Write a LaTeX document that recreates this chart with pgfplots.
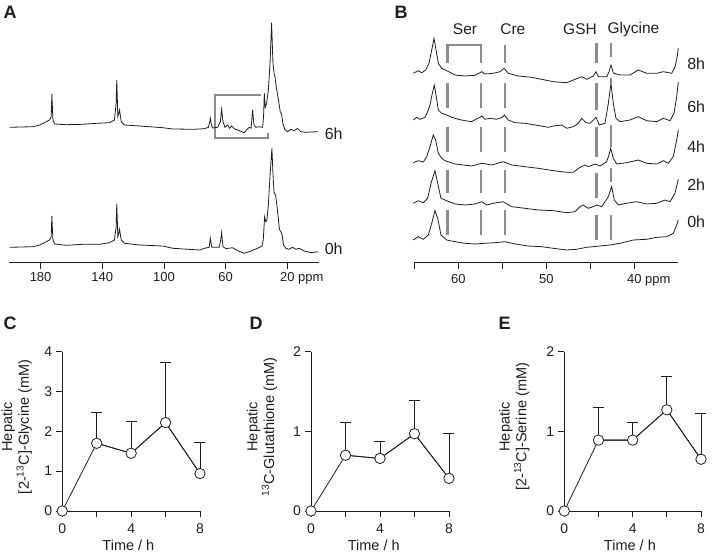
\documentclass[border=0pt]{standalone}
\usepackage{pgfplots}
\pgfplotsset{compat=1.18}
\usepackage{fontspec}
\setmainfont{Liberation Sans}
\definecolor{ink}{HTML}{1E1E1E}
\definecolor{mk}{HTML}{8C8C8C}
\begin{document}
\begin{tikzpicture}[every node/.append style={text=ink}]
\useasboundingbox (0pt,0pt) rectangle (713pt,552pt);
\pgfplotsset{
  /pgf/number format/assume math mode=true,
  spec/.style={scale only axis, clip=false, axis x line*=bottom, axis y line=none,
    x dir=reverse, ymin=0, ymax=256, height=256pt, tick align=outside,
    major tick length=7pt, axis line style={ink,line width=0.8pt},
    tick style={ink,line width=0.8pt}, ytick=\empty,
    ticklabel style={font=\fontsize{13}{15}\selectfont, text=ink}},
  bot/.style={scale only axis, clip=false, axis lines*=left, tick align=outside,
    major tick length=6.5pt, axis line style={ink,line width=0.8pt},
    tick style={ink,line width=0.8pt},
    ticklabel style={font=\fontsize{14}{16}\selectfont, text=ink},
    xticklabel style={yshift=-2.5pt},
    xmin=0, xmax=8, ymin=0, xtick={0,2,4,6,8}, xticklabels={0,,4,,8},
    height=159.3pt,
    label style={font=\fontsize{14.5}{16.7}\selectfont, text=ink},
    ylabel style={align=center, anchor=center},
    xlabel={Time / h}},
  errp/.style={ink, line width=0.8pt, mark=none, forget plot,
    error bars/.cd, y dir=plus, y explicit, error mark=-,
    error bar style={ink, line width=0.8pt},
    error mark options={ink, line width=0.8pt, mark size=5.5pt, rotate=90}},
  meanp/.style={ink, line width=0.8pt, mark=*, mark size=5.2pt,
    mark options={fill=white, draw=ink, line width=0.8pt}},
}
% ---------------- Panel A ----------------
\begin{axis}[spec, at={(9.3pt,290pt)}, anchor=south west, width=310pt,
  xmin=-0.75, xmax=200.3, xtick={180,140,100,60,20},
  xticklabels={180,140,100,60,{20\rlap{ ppm}}}]
\addplot[mk, line width=1.8pt, line join=miter] coordinates {(37.1,166.7) (66.9,166.7) (66.9,123.7) (32.3,123.7) (32.3,129.3)};
\addplot[ink, line width=0.8pt] coordinates {
(200.1,134.7) (185,135.3) (180.6,137) (176.3,140.3) (174.2,142) (173.1,145.3) (172.7,168) (172.0,142) (170.9,138) (163.4,137.3) (152.6,137.7) (143.9,138.7) (135.3,139.3) (132.1,142) (131,158.7) (130.6,182) (129.9,145.3) (129.3,148.7) (128.8,152) (127.7,140.3) (125.6,137) (115.9,136) (100.8,134.3) (94.3,133) (80.3,132.7) (73.8,133.3) (71.2,134.7) (70.3,140.3) (69.9,143.7) (69.4,138.7) (68.6,134) (65.2,134.7) (63.4,140.3) (62.6,152.7) (61.7,140.3) (60.4,134.7) (58.7,137) (57.4,133.7) (56.1,136) (54.4,133.3) (51.1,131.3) (47.9,129.3) (46.1,132.7) (44.6,134.7) (43.5,133.7) (42.5,152) (41.6,137) (40.3,134.7) (38.2,135.3) (36,134.7) (35.4,145.3) (34.9,168.7) (34.3,154.7) (33.4,158.7) (32.3,172) (31.2,198.7) (30.2,239.3) (29.3,198.7) (28.6,188.7) (28,185.3) (27.2,175.3) (25.9,163.7) (24.6,150.3) (23.7,148) (22.9,138.7) (21.6,132.7) (19.9,130.3) (17.7,132.7) (15.5,131.3) (13.4,133.7) (11.2,130.3) (8,129.7) (4.7,130) (0,130.3)};
\addplot[ink, line width=0.8pt] coordinates {
(200.1,14.7) (185,15.3) (180.6,17) (176.3,20.3) (174.2,22) (173.1,25.3) (172.7,46) (172.0,22) (170.9,18) (163.4,16.7) (152.6,17.7) (141.8,17.7) (135.3,19.3) (132.1,22) (131,35.3) (130.6,58) (129.9,25.3) (129.3,28.7) (128.8,32.7) (127.7,22) (125.6,18.7) (115.9,17) (100.8,16) (94.3,13.7) (77,12) (73.8,13.7) (70.7,14.7) (69.9,23.7) (69,14.7) (64.1,14.7) (63.2,22) (62.6,29.3) (61.7,15.3) (59.7,13.3) (55.5,14.3) (52.2,11.3) (47.9,8.7) (43.5,11) (39.3,13.7) (36.4,16) (35.6,22) (34.7,45.3) (33.9,40.3) (33.2,42) (32.3,57) (31.1,88.7) (30,113.7) (29.1,82) (28.5,68.7) (27.6,67) (26.4,52) (25.1,32.7) (24.2,30.3) (23.3,27) (22.5,17) (20.9,13.7) (18.8,12.7) (16.6,14.7) (14.4,12.7) (12.3,13.7) (9,11) (4.7,9.3) (0,10.3)};
\node[anchor=west, font=\fontsize{16}{18}\selectfont, inner sep=0pt] at (axis cs:-4.2,128.7) {6h};
\node[anchor=west, font=\fontsize{16}{18}\selectfont, inner sep=0pt] at (axis cs:-4.2,13.7) {0h};
\end{axis}
% ---------------- Panel B ----------------
\begin{axis}[spec, at={(414.3pt,290pt)}, anchor=south west, width=264pt,
  xmin=35, xmax=65, xtick={65,60,55,50,45,40},
  xticklabels={,60,,50,,{40\rlap{ ppm}}}, unbounded coords=jump,
  xticklabel style={yshift=-1.5pt}]
\addplot[mk, line width=2.6pt, line join=miter] coordinates {(61.25,198.7) (61.25,217) (57.42,217) (57.42,198.7)};
\addplot[mk, line width=2.6pt] coordinates {(61.25,178.7) (61.25,153.7) (61.25,nan) (61.25,135.3) (61.25,110.3) (61.25,nan) (61.25,92) (61.25,68.7) (61.25,nan) (61.25,52) (61.25,27)};
\addplot[mk, line width=2.6pt] coordinates {(57.42,178.7) (57.42,153.7) (57.42,nan) (57.42,135.3) (57.42,110.3) (57.42,nan) (57.42,92) (57.42,68.7) (57.42,nan) (57.42,52) (57.42,27)};
\addplot[mk, line width=2.6pt] coordinates {(54.69,217) (54.69,198.7) (54.69,nan) (54.69,178.7) (54.69,153.7) (54.69,nan) (54.69,135.3) (54.69,110.3) (54.69,nan) (54.69,92) (54.69,68.7) (54.69,nan) (54.69,52) (54.69,27)};
\addplot[mk, line width=2.6pt] coordinates {(44.32,218.7) (44.32,198.7) (44.32,nan) (44.32,178.7) (44.32,152) (44.32,nan) (44.32,135.3) (44.32,105.3) (44.32,nan) (44.32,88.7) (44.32,63.7) (44.32,nan) (44.32,47) (44.32,22)};
\addplot[mk, line width=2.6pt] coordinates {(42.65,218.7) (42.65,204.7) (42.65,nan) (42.65,183.7) (42.65,178.7) (42.65,nan) (42.65,137) (42.65,115) (42.65,nan) (42.65,93.7) (42.65,80.3) (42.65,nan) (42.65,47) (42.65,22)};
% 8h
\addplot[ink, line width=0.8pt] coordinates {
(65.11,188.7) (64.55,191.3) (64.16,189.3) (63.70,192) (63.33,198.7) (63.02,212) (62.76,223.7) (62.53,212) (62.27,198.7) (61.89,193.7) (61.32,191.3) (60.38,187) (59.24,186) (58.10,186.7) (57.65,188.7) (57.34,190.3) (56.97,188) (56.02,188.7) (55.26,190.3) (54.81,193.7) (54.32,188.7) (53.18,186) (51.66,184.7) (50.15,182) (49.20,180.3) (47.68,179.3) (46.93,182) (45.98,185.3) (45.41,182.7) (44.66,186) (44.35,190.3) (44.09,185.3) (43.14,185.3) (42.88,190) (42.65,197) (42.42,190) (42.31,188.7) (41.62,187) (40.49,187) (39.55,192) (38.59,188.7) (37.45,188.7) (36.70,190.3) (35.75,188.7) (35.38,195.3) (35.15,204) (35.0,213.7)};
% 6h
\addplot[ink, line width=0.8pt] coordinates {
(65.11,142) (64.73,144.7) (64.35,142.7) (63.78,144.7) (63.48,150.3) (63.22,157) (62.95,168.7) (62.73,177) (62.53,167) (62.27,152) (61.89,148.7) (61.32,147) (60.75,144.7) (60.0,142.7) (59.24,141.3) (58.48,140.3) (58.02,142.7) (57.53,144.7) (57.34,146) (56.97,142.7) (56.40,143.7) (55.64,142.7) (55.0,144.7) (54.77,147) (54.32,142) (53.56,139.3) (52.42,138.7) (51.28,137) (50.15,135.3) (49.77,134.7) (49.20,136) (48.25,137) (47.68,133.7) (46.93,135.3) (46.36,138.7) (45.98,143.7) (45.49,139.3) (45.03,138.7) (44.35,144.7) (43.98,137) (43.33,138.7) (42.95,158.7) (42.65,178.7) (42.39,158.7) (42.08,143.7) (41.62,140.3) (40.49,142) (39.55,145.3) (38.59,141.3) (37.45,140.3) (36.70,143.7) (35.94,141.3) (35.49,148.7) (35.18,165.3) (35.0,180)};
% 4h
\addplot[ink, line width=0.8pt] coordinates {
(65.11,99.3) (64.55,101.3) (63.98,100) (63.59,105.3) (63.22,115.3) (62.84,127) (62.57,122) (62.27,108.7) (61.89,103.7) (61.51,101.3) (60.38,98) (58.48,96) (57.34,98.7) (56.20,97) (54.89,100.3) (53.93,97) (52.42,95.3) (50.91,93.7) (49.20,91.3) (47.68,89.7) (46.93,89.7) (46.17,94.7) (45.60,97) (45.23,95.3) (44.47,98) (43.90,96) (43.14,100.3) (42.88,107) (42.68,113.7) (42.39,103.7) (42.0,98) (40.86,99.3) (39.55,102) (38.59,98.7) (37.45,98) (36.70,101.3) (36.14,98.7) (35.57,105.3) (35.18,122) (35.0,132)};
% 2h
\addplot[ink, line width=0.8pt] coordinates {
(65.11,58.7) (64.55,61.3) (63.98,59.3) (63.48,63.7) (63.10,78.7) (62.65,91.3) (62.34,78.7) (61.97,63.7) (61.32,61.3) (60.38,58) (59.24,57) (58.10,58) (57.34,60.3) (56.77,57) (56.02,58.7) (54.89,60.3) (53.93,55.3) (52.42,53.7) (50.91,52) (49.20,51.3) (47.68,49.3) (46.74,50.3) (46.17,55.3) (45.80,57) (45.23,53.7) (44.66,55.3) (44.27,57) (43.70,55.3) (42.95,65.3) (42.57,75.3) (42.27,62) (41.82,57) (40.86,58.7) (39.73,60.3) (38.59,58) (37.45,58.7) (36.51,62) (35.94,60.3) (35.38,68.7) (35.0,82.7)};
% 0h
\addplot[ink, line width=0.8pt] coordinates {
(65.11,22) (64.55,25.3) (63.98,22.7) (63.41,27) (63.02,38.7) (62.65,51.3) (62.34,43.7) (61.97,27) (61.32,22) (60.38,20.3) (59.24,18.7) (58.10,18) (56.97,18.7) (55.83,19.3) (54.69,20.3) (53.56,18) (52.05,16) (50.52,15.3) (49.20,13.7) (47.68,12) (46.55,12.7) (45.41,14.7) (43.90,16) (42.76,17) (41.62,18.7) (40.11,22) (38.59,22.7) (37.45,24.7) (36.32,25.3) (35.57,28.7) (35.18,37) (35.0,42)};
\node[anchor=west, font=\fontsize{16}{18}\selectfont, inner sep=0pt] at (axis cs:34.0,198.7) {8h};
\node[anchor=west, font=\fontsize{16}{18}\selectfont, inner sep=0pt] at (axis cs:34.0,155.3) {6h};
\node[anchor=west, font=\fontsize{16}{18}\selectfont, inner sep=0pt] at (axis cs:34.0,115.3) {4h};
\node[anchor=west, font=\fontsize{16}{18}\selectfont, inner sep=0pt] at (axis cs:34.0,77) {2h};
\node[anchor=west, font=\fontsize{16}{18}\selectfont, inner sep=0pt] at (axis cs:34.0,40.3) {0h};
\node[font=\fontsize{15.5}{18}\selectfont] at (axis cs:59.24,232.7) {Ser};
\node[font=\fontsize{15.5}{18}\selectfont] at (axis cs:53.8,232.7) {Cre};
\node[font=\fontsize{15.5}{18}\selectfont] at (axis cs:46.17,232.7) {GSH};
\node[font=\fontsize{15.5}{18}\selectfont] at (axis cs:40.1,232.7) {Glycine};
\end{axis}
% ---------------- Panel C ----------------
\begin{axis}[bot, at={(62.3pt,41pt)}, anchor=south west, width=137.7pt,
  ymax=4, ytick={0,1,2,3,4},
  ylabel={Hepatic\\{}[2-\textsuperscript{13}C]-Glycine (mM)},
  ylabel style={at={(axis description cs:-0.331,0.528)}},
  xlabel style={at={(axis description cs:0.48,-0.213)}, anchor=center}]
\addplot[errp] coordinates {(2,1.70) +- (0,0.77) (4,1.45) +- (0,0.81) (6,2.22) +- (0,1.52) (8,0.94) +- (0,0.78)};
\addplot[meanp] coordinates {(0,0) (2,1.70) (4,1.45) (6,2.22) (8,0.94)};
\end{axis}
% ---------------- Panel D ----------------
\begin{axis}[bot, at={(311pt,41pt)}, anchor=south west, width=138pt,
  ymax=2, ytick={0,1,2},
  ylabel={Hepatic\\\textsuperscript{13}C-Glutathione (mM)},
  ylabel style={at={(axis description cs:-0.355,0.528)}},
  xlabel style={at={(axis description cs:0.455,-0.213)}, anchor=center}]
\addplot[errp] coordinates {(2,0.70) +- (0,0.41) (4,0.66) +- (0,0.22) (6,0.97) +- (0,0.42) (8,0.41) +- (0,0.57)};
\addplot[meanp] coordinates {(0,0) (2,0.70) (4,0.66) (6,0.97) (8,0.41)};
\end{axis}
% ---------------- Panel E ----------------
\begin{axis}[bot, at={(564.3pt,41pt)}, anchor=south west, width=136.7pt,
  ymax=2, ytick={0,1,2},
  ylabel={Hepatic\\{}[2-\textsuperscript{13}C]-Serine (mM)},
  ylabel style={at={(axis description cs:-0.366,0.528)}},
  xlabel style={at={(axis description cs:0.48,-0.213)}, anchor=center}]
\addplot[errp] coordinates {(2,0.89) +- (0,0.41) (4,0.89) +- (0,0.22) (6,1.27) +- (0,0.42) (8,0.65) +- (0,0.58)};
\addplot[meanp] coordinates {(0,0) (2,0.89) (4,0.89) (6,1.27) (8,0.65)};
\end{axis}
% panel letters
\node[font=\bfseries\fontsize{18}{18}\selectfont] at (10pt,540pt) {A};
\node[font=\bfseries\fontsize{18}{18}\selectfont] at (401pt,540pt) {B};
\node[font=\bfseries\fontsize{18}{18}\selectfont] at (10pt,228.5pt) {C};
\node[font=\bfseries\fontsize{18}{18}\selectfont] at (256pt,228.5pt) {D};
\node[font=\bfseries\fontsize{18}{18}\selectfont] at (504.5pt,228.5pt) {E};
\end{tikzpicture}
\end{document}
